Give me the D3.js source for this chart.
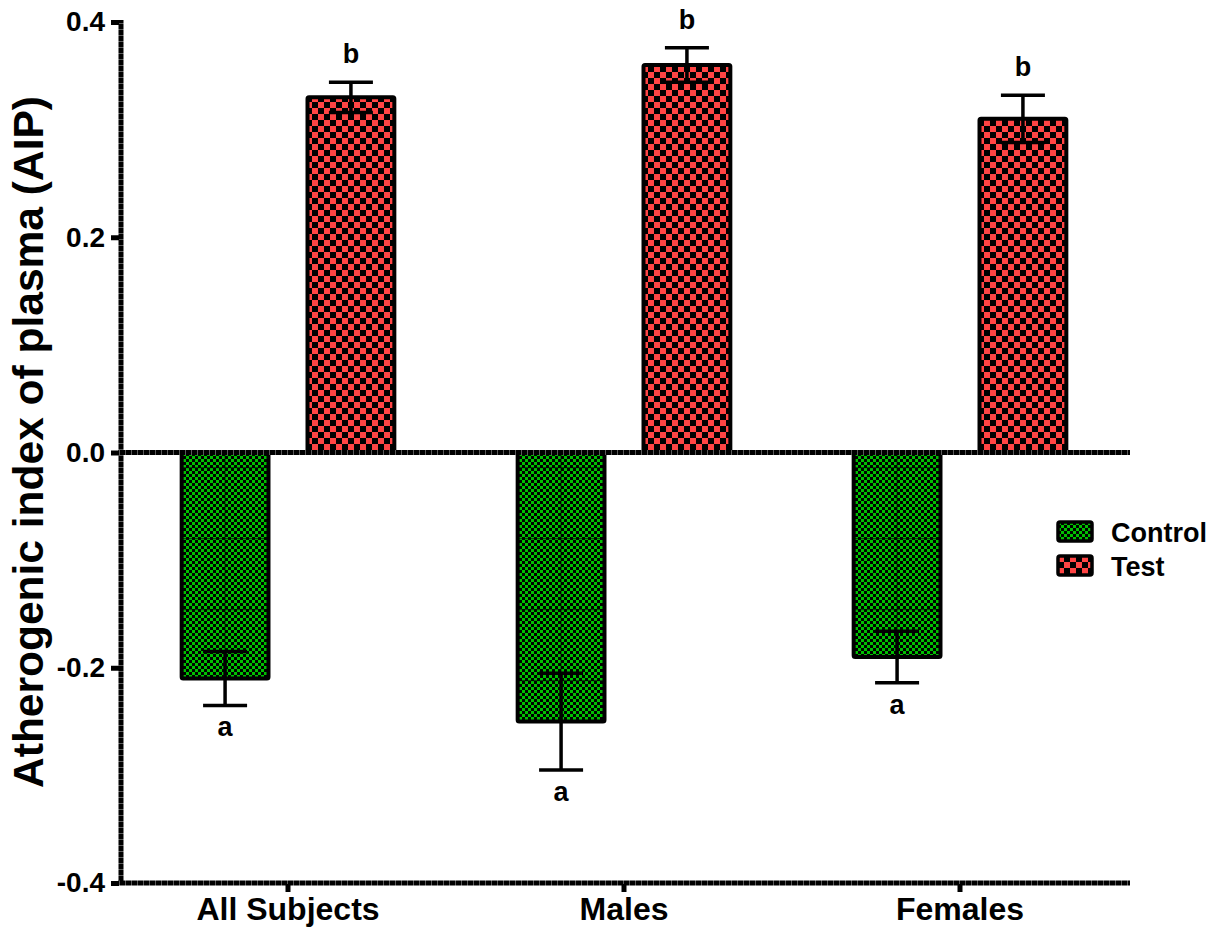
<!DOCTYPE html>
<html>
<head>
<meta charset="utf-8">
<script src="https://cdn.jsdelivr.net/npm/d3@7"></script>
<style>
  html, body { margin: 0; padding: 0; background: #fff; }
  svg { display: block; font-family: "Liberation Sans", Arial, sans-serif; font-weight: bold; }
</style>
</head>
<body>
<svg id="chart" width="1221" height="930"></svg>
<script>
// Atherogenic index of plasma, mean ± SEM per group
const groups = ["All Subjects", "Males", "Females"];
const seriesNames = ["Control", "Test"];
const controlMeans = [-0.21, -0.25, -0.19];
const controlSem = [0.025, 0.045, 0.024];
const testMeans = [0.33, 0.36, 0.31];
const testSem = [0.014, 0.016, 0.022];
const controlLetters = ["a", "a", "a"];
const testLetters = ["b", "b", "b"];
const yTicks = [-0.4, -0.2, 0.0, 0.2, 0.4];

const svg = d3.select("#chart");
const margin = { left: 121, right: 1129, top: 22, bottom: 883 };

const y = d3.scaleLinear().domain([-0.4, 0.4]).range([margin.bottom, margin.top]);
const x0 = d3.scaleBand().domain(groups).range([margin.left - 1, margin.right - 1]).padding(0);
const x1 = d3.scaleBand().domain(seriesNames).range([0, x0.bandwidth()]).paddingInner(0.31).paddingOuter(0.49);

const colors = { Control: "#00c000", Test: "#ff4444" };
const cell = { Control: 3, Test: 6 };

// Checker patterns for the bar fills and legend swatches
const defs = svg.append("defs");
seriesNames.forEach(name => {
  const s = cell[name];
  const p = defs.append("pattern")
    .attr("id", "chk-" + name)
    .attr("patternUnits", "userSpaceOnUse")
    .attr("width", s * 2).attr("height", s * 2);
  p.append("rect").attr("width", s * 2).attr("height", s * 2).attr("fill", "#000");
  p.append("rect").attr("x", 0).attr("y", 0).attr("width", s).attr("height", s).attr("fill", colors[name]);
  p.append("rect").attr("x", s).attr("y", s).attr("width", s).attr("height", s).attr("fill", colors[name]);
});
// Seam lines that break the fine green checker
const seam = defs.append("pattern")
  .attr("id", "seam")
  .attr("patternUnits", "userSpaceOnUse")
  .attr("y", 467).attr("width", 2000).attr("height", 71);
seam.append("rect").attr("width", 2000).attr("height", 1.2).attr("fill", "rgba(0,0,0,0.55)");

// Segmented texture of the heavy axis lines
const segH = defs.append("pattern").attr("id", "segH")
  .attr("patternUnits", "userSpaceOnUse").attr("width", 6).attr("height", 10);
segH.append("rect").attr("width", 6).attr("height", 10).attr("fill", "#000");
segH.append("rect").attr("x", 5).attr("width", 1).attr("height", 10).attr("fill", "#5a5a5a");
const segV = defs.append("pattern").attr("id", "segV")
  .attr("patternUnits", "userSpaceOnUse").attr("width", 10).attr("height", 6);
segV.append("rect").attr("width", 10).attr("height", 6).attr("fill", "#000");
segV.append("rect").attr("y", 5).attr("width", 10).attr("height", 1).attr("fill", "#5a5a5a");

const zeroY = y(0);

// Bars
const data = [];
groups.forEach((g, i) => {
  data.push({ group: g, series: "Control", mean: controlMeans[i], sem: controlSem[i], letter: controlLetters[i] });
  data.push({ group: g, series: "Test", mean: testMeans[i], sem: testSem[i], letter: testLetters[i] });
});

const bw = x1.bandwidth();
const barG = svg.append("g");
data.forEach(d => {
  const bx = x0(d.group) + x1(d.series);
  const top = Math.min(y(d.mean), zeroY);
  const h = Math.abs(y(d.mean) - zeroY);
  const g = barG.append("g");
  g.append("rect")
    .attr("x", bx).attr("y", top).attr("width", bw).attr("height", h)
    .attr("fill", "url(#chk-" + d.series + ")");
  if (d.series === "Control") {
    g.append("rect")
      .attr("x", bx).attr("y", top).attr("width", bw).attr("height", h)
      .attr("fill", "url(#seam)");
    g.append("line")
      .attr("x1", bx + bw / 2).attr("x2", bx + bw / 2)
      .attr("y1", top).attr("y2", top + h)
      .attr("stroke", "rgba(0,0,0,0.55)").attr("stroke-width", 1.2);
  }
  g.append("rect")
    .attr("x", bx).attr("y", top).attr("width", bw).attr("height", h)
    .attr("fill", "none").attr("stroke", "#000").attr("stroke-width", 4)
    .attr("rx", 1.5);
});

// Error bars
const capW = 44;
const errG = svg.append("g").attr("stroke", "#000").attr("stroke-width", 3.5).attr("stroke-linecap", "butt");
data.forEach(d => {
  const cx = x0(d.group) + x1(d.series) + bw / 2;
  const lo = y(d.mean - d.sem), hi = y(d.mean + d.sem);
  errG.append("line").attr("x1", cx).attr("x2", cx).attr("y1", lo).attr("y2", hi);
  errG.append("line").attr("x1", cx - capW / 2).attr("x2", cx + capW / 2).attr("y1", lo).attr("y2", lo);
  errG.append("line").attr("x1", cx - capW / 2).attr("x2", cx + capW / 2).attr("y1", hi).attr("y2", hi);
});

// Significance letters
data.forEach(d => {
  const cx = x0(d.group) + x1(d.series) + bw / 2;
  const above = d.mean > 0;
  const yy = above ? y(d.mean + d.sem) - 19 : y(d.mean - d.sem) + 31;
  svg.append("text")
    .attr("x", cx).attr("y", yy)
    .attr("text-anchor", "middle")
    .attr("font-size", 27)
    .text(d.letter);
});

// Axes: heavy segmented lines
const axW = 5;
svg.append("rect")
  .attr("x", margin.left - axW / 2).attr("y", y(0.4) - 2)
  .attr("width", axW).attr("height", y(-0.4) - y(0.4) + 4)
  .attr("fill", "url(#segV)");
svg.append("rect")
  .attr("x", margin.left - axW / 2).attr("y", y(-0.4) - axW / 2)
  .attr("width", margin.right - margin.left + axW / 2 + 1).attr("height", axW)
  .attr("fill", "url(#segH)");
svg.append("rect")
  .attr("x", margin.left - axW / 2).attr("y", zeroY - axW / 2)
  .attr("width", margin.right - margin.left + axW / 2 + 1).attr("height", axW)
  .attr("fill", "url(#segH)");

// Y axis ticks and labels (plain hyphen for negatives)
const fmt = d3.format(".1f");
const yAxis = d3.axisLeft(y).tickValues(yTicks).tickSize(8).tickPadding(6)
  .tickFormat(v => fmt(v).replace("\u2212", "-"));
const yg = svg.append("g").attr("transform", `translate(${margin.left - 2},0)`).call(yAxis);
yg.select(".domain").remove();
yg.selectAll(".tick line").attr("stroke", "#000").attr("stroke-width", 5);
yg.selectAll(".tick text").attr("font-size", 28).attr("font-weight", "bold").attr("fill", "#000")
  .attr("font-family", "Liberation Sans, Arial, sans-serif");

// X axis ticks and labels
const xAxis = d3.axisBottom(x0).tickSize(8).tickPadding(5);
const xg = svg.append("g").attr("transform", `translate(0,${margin.bottom + 1})`).call(xAxis);
xg.select(".domain").remove();
xg.selectAll(".tick line").attr("stroke", "#000").attr("stroke-width", 5);
xg.selectAll(".tick text").attr("font-size", 32).attr("font-weight", "bold").attr("fill", "#000")
  .attr("font-family", "Liberation Sans, Arial, sans-serif");

// Y axis title
svg.append("text")
  .attr("transform", `translate(43,442) rotate(-90)`)
  .attr("text-anchor", "middle")
  .attr("font-size", 42.5)
  .text("Atherogenic index of plasma (AIP)");

// Legend
const lg = svg.append("g").attr("transform", "translate(1058,522)");
seriesNames.forEach((name, i) => {
  const row = lg.append("g").attr("transform", `translate(0,${i * 34})`);
  row.append("rect").attr("width", 34).attr("height", 19)
    .attr("fill", "url(#chk-" + name + ")")
    .attr("stroke", "#000").attr("stroke-width", 3.5).attr("rx", 2);
  row.append("text").attr("x", 53).attr("y", 20).attr("font-size", 27).text(name);
});
</script>
</body>
</html>
